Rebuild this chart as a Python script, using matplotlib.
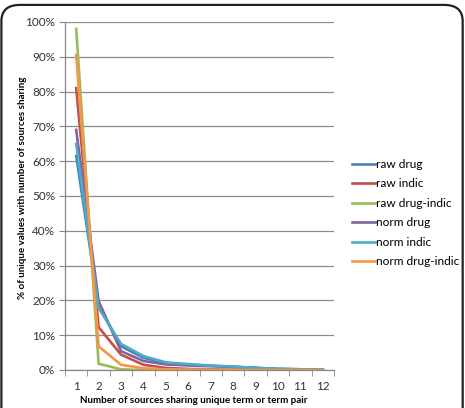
import numpy as np
import matplotlib.pyplot as plt
from matplotlib.patches import FancyBboxPatch
from matplotlib.lines import Line2D

plt.rcParams['font.family'] = ['Lato', 'DejaVu Sans']

# number of sources sharing a unique term / term pair
sources = list(range(1, 13))

# % of unique values
raw_drug = [61.5, 18.5, 6.8, 3.5, 2.0, 1.5, 1.2, 0.9, 0.6, 0.3, 0.2, 0.1]
raw_indic = [81.0, 12.3, 4.4, 1.5, 0.6, 0.3, 0.2, 0.1, 0.1, 0.05, 0.02, 0.0]
raw_drug_indic = [98.0, 1.8, 0.2, 0.0, 0.0, 0.0, 0.0, 0.0, 0.0, 0.0, 0.0, 0.0]
norm_drug = [69.0, 19.8, 5.4, 2.6, 1.6, 1.3, 1.1, 0.9, 0.6, 0.3, 0.2, 0.1]
norm_indic = [65.0, 17.8, 7.5, 4.0, 2.2, 1.7, 1.3, 1.0, 0.6, 0.3, 0.2, 0.1]
norm_drug_indic = [90.5, 6.8, 1.5, 0.5, 0.2, 0.1, 0.05, 0.0, 0.0, 0.0, 0.0, 0.0]

names = ['raw drug', 'raw indic', 'raw drug-indic', 'norm drug', 'norm indic', 'norm drug-indic']
series = [raw_drug, raw_indic, raw_drug_indic, norm_drug, norm_indic, norm_drug_indic]
colors = ['#4F81BD', '#C0504D', '#9BBB59', '#8064A2', '#4BACC6', '#F79646']

fig = plt.figure(figsize=(4.65, 4.08), dpi=100)

# outer rounded frame (only top and right edges show in the crop)
frame = FancyBboxPatch((0.003, -0.2), 0.992, 1.188,
                       boxstyle='round,pad=0,rounding_size=0.04',
                       transform=fig.transFigure, fill=False,
                       edgecolor='#222222', linewidth=1.6)
fig.patches.append(frame)

ax = fig.add_axes([65 / 465, 38 / 408, 269 / 465, 348 / 408])

for vals, c in zip(series, colors):
    ax.plot(sources, np.array(vals) / 100, color=c, linewidth=1.9, solid_joinstyle='round')

ax.set_xlim(0.5, 12.5)
ax.set_ylim(0, 1.0)
ax.set_yticks(np.arange(0, 1.01, 0.1))
ax.set_yticklabels([f'{int(round(v * 100))}%' for v in np.arange(0, 1.01, 0.1)])
ax.set_xticks(sources)
ax.set_xticks(np.arange(0.5, 12.6, 1), minor=True)
ax.tick_params(axis='x', which='major', length=0, pad=8, labelsize=8.5, labelcolor='#333333')
ax.tick_params(axis='x', which='minor', length=4, color='#888888', direction='out')
ax.tick_params(axis='y', length=4, color='#888888', labelsize=8.5, labelcolor='#333333', pad=3)

ax.grid(axis='y', color='#8c8c8c', linewidth=0.9)
ax.set_axisbelow(True)
for s in ['top', 'right']:
    ax.spines[s].set_visible(False)
for s in ['left', 'bottom']:
    ax.spines[s].set_color('#888888')
    ax.spines[s].set_linewidth(0.9)

ax.set_xlabel('Number of sources sharing unique term or term pair',
              fontsize=7.1, fontweight='bold')
ax.set_ylabel('% of unique values with number of sources sharing',
              fontsize=7.1, fontweight='bold')
ax.xaxis.set_label_coords(0.48, -0.075)
ax.yaxis.set_label_coords(-0.143, 0.525)

handles = [Line2D([0], [0], color=c, linewidth=1.9) for c in colors]
fig.legend(handles, names, loc='upper left', bbox_to_anchor=(346 / 465, 1 - 153 / 408),
           frameon=False, fontsize=8.6, handlelength=1.9, handletextpad=0.1,
           labelspacing=0.71, borderpad=0)

fig.savefig('out.png', dpi=100)
